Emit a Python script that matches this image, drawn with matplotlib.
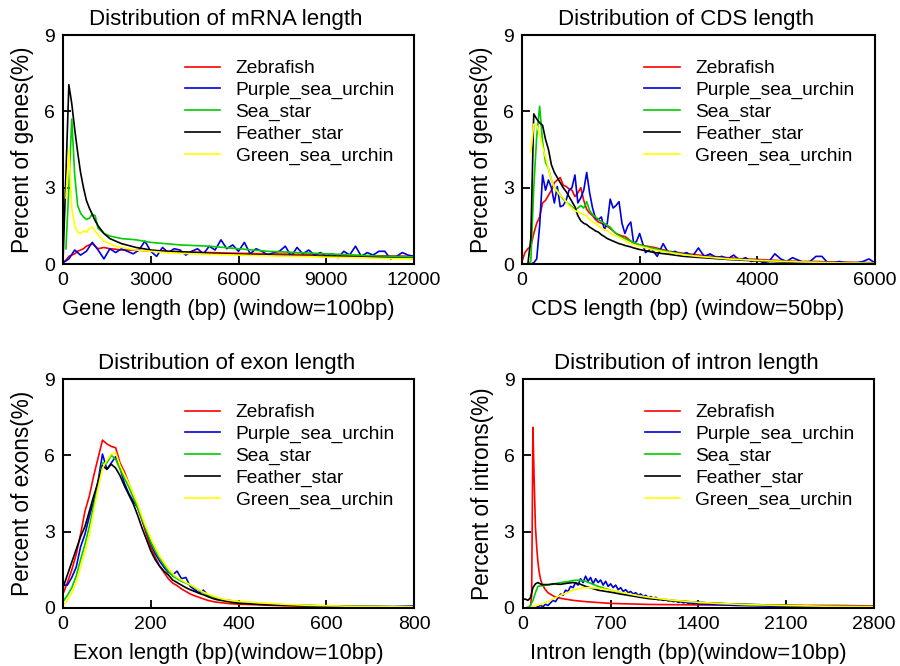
import numpy as np
import matplotlib
matplotlib.use("Agg")
import matplotlib.pyplot as plt

plt.rcParams['font.family'] = ['Liberation Sans', 'DejaVu Sans']

species = ["Zebrafish", "Purple_sea_urchin", "Sea_star", "Feather_star", "Green_sea_urchin"]
colors = ["#ff0000", "#0000dd", "#00cc00", "#000000", "#ffff00"]

# ---- mRNA length (window=100bp) ----
mrna_x = [0, 100, 200, 300, 400, 500, 600, 700, 800, 900, 1000, 1100, 1200, 1400, 1600, 1800, 2000,
          2500, 3000, 3500, 4000, 5000, 6000, 7000, 8000, 9000, 10000, 11000, 12000]
mrna_zebrafish = [0.05, 0.15, 0.3, 0.35, 0.4, 0.5, 0.55, 0.6, 0.7, 0.75, 0.8, 0.7, 0.6, 0.65, 0.6, 0.58, 0.55,
                  0.55, 0.5, 0.5, 0.48, 0.45, 0.42, 0.4, 0.38, 0.35, 0.33, 0.32, 0.3]
mrna_seastar = [np.nan, 0.6, 3.0, 5.7, 3.5, 2.3, 2.0, 1.85, 1.75, 1.8, 1.95, 1.9, 1.4, 1.2, 1.1, 1.05, 1.0,
                0.95, 0.85, 0.8, 0.75, 0.7, 0.6, 0.5, 0.45, 0.4, 0.35, 0.3, 0.28]
mrna_feather = [0.1, 3.5, 7.05, 6.3, 5.3, 4.4, 3.6, 3.0, 2.5, 2.2, 1.95, 1.7, 1.5, 1.2, 1.0, 0.9, 0.8,
                0.65, 0.55, 0.5, 0.48, 0.42, 0.38, 0.35, 0.32, 0.3, 0.28, 0.25, 0.22]
mrna_green = [np.nan, 2.6, 4.5, 2.2, 1.5, 1.25, 1.2, 1.3, 1.25, 1.4, 1.45, 1.3, 1.15, 0.9, 0.8, 0.7, 0.65,
              0.55, 0.5, 0.45, 0.42, 0.38, 0.35, 0.32, 0.3, 0.27, 0.25, 0.22, 0.2]
mrna_purple_x = np.arange(0, 12001, 200)
mrna_purple = [0.05, 0.2, 0.55, 0.35, 0.5, 0.85, 0.55, 0.2, 0.6, 0.45, 0.6, 0.5, 0.4, 0.55, 0.9, 0.5,
               0.3, 0.65, 0.45, 0.6, 0.55, 0.35, 0.5, 0.6, 0.4, 0.7, 0.55, 0.95, 0.6, 0.75, 0.5, 0.85,
               0.4, 0.6, 0.5, 0.35, 0.45, 0.5, 0.7, 0.3, 0.65, 0.4, 0.55, 0.35, 0.45, 0.3, 0.4, 0.25,
               0.5, 0.35, 0.7, 0.3, 0.45, 0.35, 0.5, 0.5, 0.2, 0.3, 0.45, 0.35, 0.3]

# ---- CDS length (window=50bp) ----
cds_x = list(range(0, 2001, 50)) + list(range(2250, 6001, 250))
cds_zebrafish = [0.1, 0.45, 0.6, 0.7, 1.2, 1.6, 1.85, 2.4, 2.5, 2.7, 2.9, 3.2, 3.3, 3.4, 3.1, 3.05, 2.95,
                 2.9, 2.65, 2.8, 3.0, 2.5, 2.15, 2.0, 1.9, 1.75, 1.65, 1.6, 1.55, 1.48, 1.4, 1.3, 1.2,
                 1.15, 1.1, 1.08, 1.0, 0.9, 0.82, 0.78, 0.75,
                 0.65, 0.5, 0.42, 0.35, 0.3, 0.25, 0.2, 0.18, 0.15, 0.12, 0.1, 0.1, 0.08, 0.07, 0.06, 0.05]
cds_seastar = [0, 0, 0, 0.1, 3.0, 5.0, 6.2, 4.8, 4.0, 3.75, 3.3, 3.0, 2.9, 2.7, 2.55, 2.45, 2.35, 2.25,
               2.15, 2.2, 2.3, 2.2, 2.45, 2.1, 1.95, 1.85, 1.75, 1.67, 1.6, 1.52, 1.45, 1.3, 1.2, 1.12,
               1.05, 1.0, 0.95, 0.9, 0.85, 0.8, 0.75,
               0.6, 0.48, 0.38, 0.3, 0.25, 0.2, 0.17, 0.14, 0.11, 0.09, 0.08, 0.06, 0.05, 0.05, 0.04, 0.03]
cds_feather = [0, 0, 0, 1.0, 5.9, 5.7, 5.55, 5.45, 4.9, 4.5, 3.9, 3.6, 3.4, 3.2, 3.0, 2.85, 2.65, 2.45,
               2.25, 1.9, 1.7, 1.6, 1.55, 1.45, 1.38, 1.3, 1.25, 1.15, 1.08, 1.0, 0.95, 0.9, 0.85, 0.8,
               0.77, 0.73, 0.7, 0.67, 0.63, 0.6, 0.57,
               0.45, 0.38, 0.3, 0.26, 0.22, 0.18, 0.15, 0.12, 0.1, 0.08, 0.07, 0.06, 0.05, 0.04, 0.03, 0.03]
cds_green = [np.nan, np.nan, np.nan, 4.4, 5.5, 5.45, 5.1, 4.6, 4.2, 3.75, 3.3, 3.0, 2.85, 2.7, 2.6, 2.45,
             2.3, 2.2, 2.1, 2.05, 2.0, 1.95, 1.9, 1.75, 1.65, 1.6, 1.5, 1.42, 1.35, 1.3, 1.22, 1.15, 1.1,
             1.05, 1.0, 0.92, 0.85, 0.8, 0.77, 0.73, 0.7,
             0.55, 0.45, 0.36, 0.3, 0.25, 0.2, 0.17, 0.14, 0.12, 0.1, 0.08, 0.07, 0.05, 0.04, 0.04, 0.03]
cds_purple_x = list(range(0, 2001, 50)) + list(range(2100, 6001, 100))
cds_purple = [0, 0, 0, 0, 0.05, 0.2, 1.5, 3.5, 2.9, 3.3, 3.0, 2.4, 3.05, 2.25, 2.3, 2.5, 2.9, 3.0, 3.5,
              2.4, 2.6, 2.9, 3.6, 2.8, 2.2, 1.8, 1.75, 1.85, 1.35, 1.6, 2.55, 2.2, 2.3, 2.45, 1.6, 1.2,
              1.5, 1.65, 0.8, 0.9, 1.2,
              0.45, 0.6, 0.3, 0.8, 0.4, 0.5, 0.35, 0.45, 0.3, 0.63, 0.3, 0.4, 0.25, 0.3, 0.2, 0.35, 0.15,
              0.25, 0.1, 0.18, 0.05, 0.1, 0.4, 0.2, 0.1, 0.25, 0.15, 0.05, 0.1, 0.3, 0.3, 0.05, 0.05,
              0.1, 0.05, 0.05, 0.05, 0.1, 0.2, 0.05]

# ---- exon length (window=10bp) ----
exon_x = list(range(0, 401, 10)) + list(range(450, 801, 50))
exon_zebrafish = [0.55, 1.0, 1.5, 2.1, 2.9, 3.8, 4.4, 5.2, 5.9, 6.6, 6.45, 6.35, 6.3, 5.7, 5.35, 4.9, 4.45,
                  3.95, 3.45, 2.9, 2.4, 2.0, 1.65, 1.4, 1.15, 0.98, 0.88, 0.75, 0.65, 0.55, 0.48, 0.42,
                  0.36, 0.3, 0.26, 0.23, 0.21, 0.19, 0.17, 0.16, 0.15,
                  0.12, 0.09, 0.07, 0.06, 0.05, 0.04, 0.03, 0.03]
exon_purple = [0.9, 0.9, 1.2, 1.6, 2.4, 2.9, 3.6, 4.2, 5.0, 6.05, 5.45, 5.7, 5.95, 5.5, 4.9, 4.5, 4.2,
               3.95, 3.5, 3.0, 2.55, 2.15, 1.85, 1.6, 1.4, 1.3, 1.45, 1.15, 1.2, 0.85, 0.72, 0.6, 0.7,
               0.5, 0.45, 0.38, 0.35, 0.3, 0.28, 0.25, 0.22,
               0.15, 0.12, 0.1, 0.08, 0.07, 0.06, 0.05, 0.08]
exon_seastar = [0.25, 0.5, 0.8, 1.25, 1.9, 2.5, 3.2, 4.0, 4.9, 5.7, 5.7, 6.0, 5.85, 5.45, 5.1, 4.75, 4.35,
                3.95, 3.5, 3.05, 2.6, 2.25, 1.95, 1.7, 1.45, 1.25, 1.15, 1.05, 0.98, 0.9, 0.8, 0.7, 0.6,
                0.52, 0.45, 0.4, 0.35, 0.32, 0.3, 0.27, 0.25,
                0.18, 0.13, 0.1, 0.08, 0.07, 0.06, 0.05, 0.05]
exon_feather = [0.8, 1.3, 1.8, 2.3, 2.8, 3.2, 3.8, 4.4, 4.95, 5.6, 5.45, 5.65, 5.5, 5.2, 4.8, 4.45, 4.1,
                3.65, 3.15, 2.7, 2.25, 1.9, 1.65, 1.45, 1.3, 1.1, 1.0, 0.9, 0.8, 0.72, 0.65, 0.58, 0.52,
                0.45, 0.38, 0.33, 0.3, 0.27, 0.24, 0.21, 0.19,
                0.14, 0.11, 0.09, 0.08, 0.07, 0.06, 0.05, 0.05]
exon_green = [0.1, 0.3, 0.6, 1.0, 1.6, 2.2, 2.9, 3.8, 4.7, 5.5, 5.8, 6.05, 6.1, 5.6, 5.25, 4.9, 4.5,
              4.1, 3.6, 3.15, 2.75, 2.4, 2.05, 1.8, 1.55, 1.35, 1.2, 1.1, 1.0, 0.92, 0.82, 0.72, 0.62,
              0.55, 0.48, 0.42, 0.37, 0.33, 0.3, 0.28, 0.26,
              0.2, 0.15, 0.11, 0.09, 0.07, 0.06, 0.05, 0.05]

# ---- intron length (window=10bp) ----
intron_zf_x = [0, 50, 60, 70, 80, 90, 100, 110, 120, 130, 140, 150, 175, 200, 250, 300, 400, 500, 700,
               1000, 1400, 1800, 2100, 2500, 2800]
intron_zebrafish = [0, 0, 0.05, 0.5, 7.1, 5.0, 3.2, 2.4, 1.8, 1.4, 1.15, 0.98, 0.75, 0.6, 0.45, 0.38,
                    0.3, 0.25, 0.18, 0.14, 0.12, 0.12, 0.1, 0.1, 0.08]
intron_x = [0, 20, 40, 60, 80, 100, 120, 150, 200, 250, 300, 350, 400, 450, 500, 600, 700, 800, 900,
            1000, 1200, 1400, 1600, 1800, 2100, 2400, 2800]
intron_feather = [0.35, 0.35, 0.3, 0.4, 0.8, 0.95, 1.0, 0.92, 0.92, 0.95, 0.93, 0.97, 1.0, 0.95, 0.85,
                  0.7, 0.62, 0.53, 0.45, 0.37, 0.28, 0.22, 0.17, 0.14, 0.1, 0.07, 0.05]
intron_seastar = [0, 0, 0.03, 0.1, 0.3, 0.6, 0.85, 0.88, 0.9, 0.95, 1.0, 1.03, 1.08, 1.1, 1.05, 0.85,
                  0.7, 0.58, 0.48, 0.4, 0.3, 0.22, 0.17, 0.13, 0.1, 0.07, 0.05]
intron_green = [0, 0, 0.01, 0.02, 0.05, 0.1, 0.12, 0.15, 0.25, 0.38, 0.5, 0.6, 0.7, 0.76, 0.8, 0.78,
                0.7, 0.6, 0.5, 0.42, 0.3, 0.22, 0.17, 0.13, 0.1, 0.07, 0.05]
intron_purple_x = list(range(0, 1401, 20)) + list(range(1500, 2801, 100))
intron_purple = [0, 0, 0, 0, 0, 0, 0.05, 0.1, 0.05, 0.15, 0.1, 0.2, 0.3, 0.25, 0.4, 0.55, 0.5, 0.7, 0.65,
                 0.85, 0.8, 1.0, 0.9, 1.15, 1.0, 1.25, 1.05, 1.2, 0.95, 1.15, 1.0, 1.1, 0.9, 1.05, 0.85,
                 0.95, 0.8, 0.9, 0.72, 0.8, 0.65, 0.72, 0.6, 0.65, 0.55, 0.6, 0.5, 0.55, 0.45, 0.5, 0.4,
                 0.45, 0.38, 0.42, 0.33, 0.36, 0.3, 0.33, 0.28, 0.3, 0.25, 0.27, 0.22, 0.25, 0.2, 0.23,
                 0.18, 0.2, 0.17, 0.19, 0.15,
                 0.14, 0.12, 0.1, 0.09, 0.08, 0.07, 0.06, 0.06, 0.05, 0.05, 0.04, 0.04, 0.03, 0.03]

panels = [
    dict(title="Distribution of mRNA length", xlabel="Gene length (bp) (window=100bp)",
         ylabel="Percent of genes(%)", xlim=12000, xticks=[0, 3000, 6000, 9000, 12000],
         series=[(mrna_x, mrna_zebrafish), (mrna_purple_x, mrna_purple), (mrna_x, mrna_seastar),
                 (mrna_x, mrna_feather), (mrna_x, mrna_green)]),
    dict(title="Distribution of CDS length", xlabel="CDS length (bp) (window=50bp)",
         ylabel="Percent of genes(%)", xlim=6000, xticks=[0, 2000, 4000, 6000],
         series=[(cds_x, cds_zebrafish), (cds_purple_x, cds_purple), (cds_x, cds_seastar),
                 (cds_x, cds_feather), (cds_x, cds_green)]),
    dict(title="Distribution of exon length", xlabel="Exon length (bp)(window=10bp)",
         ylabel="Percent of exons(%)", xlim=800, xticks=[0, 200, 400, 600, 800],
         series=[(exon_x, exon_zebrafish), (exon_x, exon_purple), (exon_x, exon_seastar),
                 (exon_x, exon_feather), (exon_x, exon_green)]),
    dict(title="Distribution of intron length", xlabel="Intron length (bp)(window=10bp)",
         ylabel="Percent of introns(%)", xlim=2800, xticks=[0, 700, 1400, 2100, 2800],
         series=[(intron_zf_x, intron_zebrafish), (intron_purple_x, intron_purple),
                 (intron_x, intron_seastar), (intron_x, intron_feather), (intron_x, intron_green)]),
]

fig = plt.figure(figsize=(9, 6.66), dpi=100)
boxes = [(0.070, 0.6036, 0.390, 0.3438), (0.580, 0.6036, 0.392, 0.3438),
         (0.070, 0.0871, 0.390, 0.3438), (0.581, 0.0871, 0.390, 0.3438)]

for box, p in zip(boxes, panels):
    ax = fig.add_axes(box)
    for (xs, ys), name, c in zip(p["series"], species, colors):
        ax.plot(xs, ys, color=c, lw=1.2, label=name)
    ax.set_xlim(0, p["xlim"])
    ax.set_ylim(0, 9)
    ax.set_xticks(p["xticks"])
    ax.set_yticks([0, 3, 6, 9])
    ax.tick_params(direction="in", length=6, width=1.3, labelsize=14, pad=6)
    for s in ax.spines.values():
        s.set_linewidth(1.5)
    ax.set_title(p["title"], fontsize=16, x=0.465, pad=7)
    ax.set_xlabel(p["xlabel"], fontsize=15.8, x=0.47, labelpad=7)
    ax.set_ylabel(p["ylabel"], fontsize=16.3, labelpad=7)
    ax.legend(loc="upper left", bbox_to_anchor=(0.325, 0.925), frameon=False, fontsize=13.8,
              handlelength=1.85, handletextpad=0.8, labelspacing=0.22, borderaxespad=0)

fig.savefig("out.png", dpi=100)
